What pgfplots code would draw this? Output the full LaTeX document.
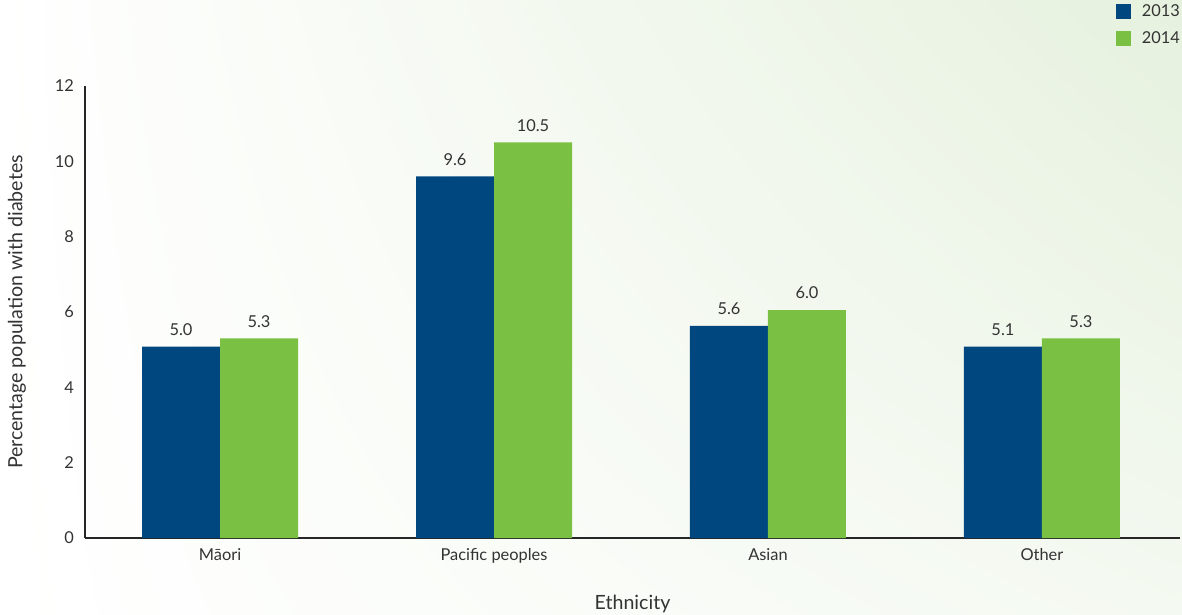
\documentclass[border=0pt]{standalone}
\usepackage{fontspec}
\setmainfont{Lato}
\usepackage{pgfplots}
\usepackage{pgfplotstable}
\usetikzlibrary{shadings}
\pgfplotsset{compat=1.18}
\definecolor{cblue}{RGB}{0,70,127}
\definecolor{cgreen}{RGB}{122,193,67}
\definecolor{bgg}{RGB}{230,241,222}
\definecolor{bgl}{RGB}{244,249,241}
\definecolor{txt}{RGB}{51,51,51}
\pgfplotstableread{
x y lab
0 5.08 5.0
1 9.6 9.6
2 5.63 5.6
3 5.08 5.1
}\dataA
\pgfplotstableread{
x y lab
0 5.3 5.3
1 10.5 10.5
2 6.05 6.0
3 5.3 5.3
}\dataB
\begin{document}
\begin{tikzpicture}
\shade[upper right=bgg, upper left=white, lower left=white, lower right=bgl] (-42.5pt,-38.5pt) rectangle (548.5pt,269pt);
\begin{axis}[
  at={(0,0)}, anchor=south west,
  scale only axis, width=547.5pt, height=226pt,
  ybar=0pt, bar width=39pt,
  xmin=-0.493, xmax=3.504, ymin=0, ymax=12,
  xtick={0,1,2,3}, xticklabels={Māori,Pacific peoples,Asian,Other},
  ytick={0,2,...,12},
  major tick length=0pt,
  axis x line*=bottom, axis y line*=left,
  axis line style={draw=black!85, line width=0.6pt, -},
  tick label style={font=\fontsize{8.2}{9}\selectfont, text=txt},
  /pgf/number format/assume math mode=true,
  yticklabel style={xshift=-2pt},
  xticklabel style={yshift=-1.5pt},
  ylabel={Percentage population with diabetes},
  xlabel={Ethnicity},
  label style={font=\fontsize{9.8}{11}\selectfont, text=txt},
  ylabel style={at={(axis description cs:0,0.5)}, anchor=south, yshift=26pt},
  xlabel style={at={(axis description cs:0.5,0)}, anchor=north, yshift=-25pt},
  nodes near coords,
  point meta=explicit symbolic,
  every node near coord/.append style={font=\fontsize{8.2}{9}\selectfont, text=txt, yshift=2pt},
  legend style={at={(1.004,1.19)}, anchor=north east, draw=none, fill=none,
    font=\fontsize{8.2}{9}\selectfont, text=txt, row sep=2pt, inner sep=0pt},
  legend cell align=left,
  legend image code/.code={\fill[#1] (0pt,-3.75pt) rectangle (7.5pt,3.75pt); \path (11pt,0pt);},
  clip=false,
]
\addplot[fill=cblue, draw=none] table[x=x, y=y, meta=lab] {\dataA};
\addplot[fill=cgreen, draw=none] table[x=x, y=y, meta=lab] {\dataB};
\legend{2013,2014}
\end{axis}
\pgfresetboundingbox
\path[use as bounding box] (-42.5pt,-38.5pt) rectangle (548.5pt,269pt);
\end{tikzpicture}
\end{document}
